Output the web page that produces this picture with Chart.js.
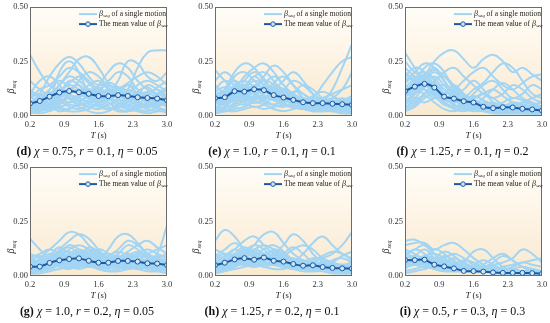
<!DOCTYPE html>
<html><head><meta charset="utf-8">
<script src="https://cdn.jsdelivr.net/npm/chart.js@4/dist/chart.umd.min.js"></script>
<style>
html,body{margin:0;padding:0;background:#fff;width:550px;height:323px;overflow:hidden;position:relative;}
.pnl{position:absolute;}
.cap{position:absolute;font-family:'Liberation Serif','Times New Roman',serif;font-size:12px;color:#111;white-space:nowrap;transform:translateX(-50%);}
</style></head><body>
<script>
// ---- data ----
const T = [0.2,0.4,0.6,0.8,1.0,1.2,1.4,1.6,1.8,2.0,2.2,2.4,2.6,2.8,3.0];
const xTickLabels = [0.2,0.9,1.6,2.3,3.0];
const yTickLabels = [0.00,0.25,0.50];

const meanD = [0.055,0.067,0.087,0.106,0.113,0.107,0.100,0.090,0.089,0.094,0.090,0.084,0.081,0.078,0.070];
const meanE = [0.080,0.084,0.112,0.110,0.121,0.117,0.094,0.083,0.072,0.061,0.057,0.057,0.054,0.052,0.049];
const meanF = [0.113,0.133,0.146,0.129,0.087,0.078,0.066,0.060,0.040,0.034,0.038,0.037,0.031,0.028,0.023];
const meanG = [0.041,0.041,0.058,0.070,0.076,0.079,0.068,0.059,0.059,0.067,0.067,0.064,0.056,0.055,0.048];
const meanH = [0.048,0.059,0.074,0.080,0.073,0.083,0.068,0.064,0.053,0.045,0.047,0.039,0.035,0.033,0.032];
const meanI = [0.071,0.071,0.073,0.050,0.042,0.033,0.021,0.020,0.018,0.014,0.012,0.012,0.012,0.011,0.008];

const singleD = [
[0.28,0.20,0.14,0.12,0.15,0.18,0.15,0.10,0.08,0.10,0.14,0.12,0.08,0.06,0.05],
[0.05,0.10,0.18,0.24,0.27,0.24,0.18,0.14,0.16,0.20,0.18,0.12,0.10,0.13,0.16],
[0.02,0.04,0.08,0.14,0.20,0.26,0.27,0.22,0.15,0.10,0.08,0.10,0.14,0.12,0.08],
[0.03,0.02,0.05,0.08,0.10,0.12,0.10,0.14,0.20,0.24,0.22,0.16,0.12,0.10,0.12],
[0.06,0.08,0.05,0.04,0.06,0.10,0.14,0.16,0.12,0.08,0.12,0.22,0.29,0.30,0.30],
[0.10,0.16,0.18,0.14,0.08,0.05,0.06,0.09,0.12,0.10,0.07,0.05,0.04,0.06,0.08],
[0.01,0.02,0.03,0.06,0.09,0.08,0.06,0.04,0.03,0.05,0.08,0.10,0.09,0.07,0.05],
[0.04,0.06,0.10,0.12,0.10,0.07,0.09,0.12,0.14,0.12,0.09,0.06,0.05,0.07,0.10],
[0.08,0.12,0.14,0.18,0.22,0.20,0.16,0.12,0.10,0.12,0.15,0.18,0.20,0.18,0.14],
[0.02,0.01,0.02,0.04,0.05,0.04,0.02,0.01,0.02,0.04,0.03,0.02,0.01,0.02,0.03],
[0.06,0.04,0.06,0.10,0.14,0.12,0.08,0.06,0.08,0.06,0.04,0.05,0.08,0.06,0.04],
[0.12,0.08,0.05,0.06,0.10,0.16,0.20,0.18,0.13,0.09,0.10,0.14,0.16,0.14,0.11],
[0.03,0.05,0.08,0.08,0.06,0.08,0.12,0.10,0.06,0.04,0.06,0.08,0.06,0.04,0.02],
[0.16,0.12,0.10,0.14,0.18,0.16,0.12,0.08,0.10,0.16,0.25,0.24,0.18,0.16,0.20],
[0.01,0.03,0.04,0.02,0.03,0.05,0.04,0.06,0.08,0.06,0.03,0.04,0.05,0.03,0.01],
[0.05,0.07,0.12,0.16,0.13,0.10,0.12,0.08,0.05,0.08,0.12,0.09,0.07,0.09,0.12],
[0.09,0.06,0.08,0.20,0.25,0.20,0.10,0.06,0.07,0.09,0.07,0.05,0.06,0.10,0.13],
[0.04,0.09,0.07,0.04,0.03,0.06,0.09,0.11,0.08,0.05,0.07,0.11,0.13,0.09,0.06],
[0.07,0.05,0.03,0.05,0.08,0.06,0.04,0.03,0.05,0.07,0.05,0.03,0.02,0.04,0.06],
[0.03,0.07,0.09,0.07,0.04,0.03,0.05,0.08,0.06,0.03,0.02,0.03,0.06,0.08,0.07],
[0.10,0.09,0.11,0.09,0.12,0.14,0.10,0.07,0.09,0.13,0.11,0.08,0.10,0.12,0.09],
[0.02,0.05,0.06,0.09,0.12,0.10,0.08,0.10,0.11,0.08,0.05,0.07,0.10,0.08,0.05],
[0.05,0.03,0.04,0.07,0.06,0.09,0.11,0.13,0.10,0.12,0.14,0.10,0.07,0.05,0.07],
[0.08,0.10,0.08,0.10,0.16,0.14,0.09,0.11,0.15,0.13,0.08,0.09,0.11,0.10,0.08],
[0.01,0.02,0.04,0.03,0.02,0.02,0.03,0.05,0.04,0.02,0.02,0.04,0.03,0.02,0.02],
[0.04,0.04,0.06,0.11,0.08,0.05,0.07,0.05,0.03,0.05,0.09,0.07,0.04,0.05,0.09]
];
const singleE = [
[0.21,0.16,0.12,0.14,0.18,0.20,0.16,0.10,0.07,0.05,0.04,0.06,0.12,0.22,0.33],
[0.06,0.12,0.20,0.24,0.22,0.16,0.12,0.10,0.08,0.06,0.08,0.14,0.20,0.25,0.27],
[0.10,0.08,0.12,0.18,0.22,0.24,0.20,0.14,0.10,0.08,0.06,0.05,0.08,0.12,0.20],
[0.03,0.06,0.10,0.08,0.12,0.18,0.23,0.20,0.14,0.08,0.05,0.04,0.05,0.06,0.05],
[0.08,0.12,0.16,0.12,0.10,0.12,0.14,0.12,0.08,0.06,0.04,0.03,0.04,0.03,0.02],
[0.04,0.02,0.05,0.10,0.14,0.12,0.08,0.06,0.10,0.14,0.12,0.08,0.06,0.05,0.06],
[0.12,0.16,0.14,0.10,0.08,0.10,0.15,0.18,0.14,0.10,0.07,0.06,0.05,0.04,0.03],
[0.02,0.03,0.06,0.12,0.18,0.14,0.10,0.06,0.04,0.03,0.05,0.07,0.06,0.04,0.03],
[0.07,0.09,0.14,0.16,0.13,0.09,0.07,0.08,0.11,0.10,0.07,0.05,0.04,0.05,0.07],
[0.01,0.02,0.03,0.04,0.06,0.05,0.03,0.02,0.03,0.04,0.03,0.02,0.02,0.01,0.01],
[0.05,0.10,0.18,0.20,0.16,0.12,0.10,0.12,0.16,0.14,0.10,0.07,0.05,0.06,0.08],
[0.14,0.10,0.06,0.05,0.07,0.10,0.12,0.09,0.05,0.03,0.04,0.06,0.08,0.07,0.05],
[0.09,0.06,0.09,0.13,0.10,0.06,0.05,0.07,0.06,0.05,0.06,0.08,0.10,0.12,0.14],
[0.03,0.08,0.13,0.09,0.06,0.08,0.12,0.16,0.20,0.16,0.10,0.07,0.06,0.07,0.09],
[0.11,0.13,0.10,0.07,0.09,0.14,0.18,0.14,0.09,0.06,0.05,0.04,0.03,0.02,0.02],
[0.06,0.05,0.08,0.06,0.04,0.05,0.09,0.11,0.08,0.07,0.09,0.11,0.09,0.06,0.04],
[0.16,0.20,0.16,0.10,0.12,0.16,0.14,0.08,0.05,0.04,0.02,0.02,0.03,0.04,0.03],
[0.04,0.04,0.10,0.16,0.20,0.17,0.10,0.05,0.04,0.06,0.08,0.06,0.04,0.03,0.04],
[0.07,0.05,0.04,0.07,0.09,0.07,0.05,0.04,0.06,0.05,0.03,0.03,0.05,0.04,0.03],
[0.03,0.06,0.08,0.10,0.08,0.10,0.13,0.10,0.07,0.05,0.06,0.05,0.03,0.02,0.03],
[0.10,0.11,0.09,0.12,0.16,0.14,0.11,0.09,0.06,0.08,0.06,0.04,0.06,0.08,0.06],
[0.02,0.04,0.07,0.06,0.09,0.12,0.09,0.06,0.08,0.06,0.04,0.05,0.04,0.03,0.02],
[0.05,0.08,0.12,0.14,0.11,0.08,0.10,0.12,0.09,0.07,0.05,0.03,0.02,0.04,0.05],
[0.08,0.06,0.10,0.09,0.07,0.09,0.07,0.05,0.04,0.03,0.04,0.05,0.07,0.05,0.03],
[0.01,0.02,0.02,0.03,0.04,0.03,0.04,0.05,0.04,0.03,0.02,0.03,0.02,0.02,0.01],
[0.06,0.09,0.11,0.08,0.06,0.07,0.10,0.08,0.05,0.04,0.03,0.02,0.03,0.03,0.04]
];
const singleF = [
[0.29,0.22,0.16,0.12,0.08,0.05,0.04,0.03,0.02,0.02,0.01,0.01,0.02,0.01,0.01],
[0.10,0.16,0.22,0.24,0.20,0.12,0.08,0.05,0.03,0.02,0.02,0.03,0.02,0.01,0.01],
[0.05,0.10,0.18,0.25,0.29,0.30,0.26,0.22,0.26,0.28,0.25,0.20,0.22,0.19,0.16],
[0.18,0.22,0.20,0.14,0.10,0.12,0.16,0.20,0.22,0.18,0.14,0.12,0.15,0.18,0.19],
[0.12,0.08,0.10,0.16,0.18,0.14,0.10,0.08,0.10,0.12,0.09,0.06,0.04,0.05,0.06],
[0.22,0.18,0.14,0.16,0.20,0.22,0.18,0.14,0.10,0.08,0.10,0.14,0.12,0.08,0.06],
[0.08,0.14,0.18,0.12,0.06,0.03,0.02,0.03,0.04,0.03,0.02,0.02,0.03,0.02,0.02],
[0.14,0.12,0.16,0.20,0.16,0.08,0.04,0.03,0.05,0.04,0.02,0.01,0.01,0.02,0.01],
[0.04,0.06,0.10,0.14,0.12,0.08,0.06,0.08,0.10,0.08,0.05,0.04,0.06,0.05,0.03],
[0.16,0.20,0.24,0.22,0.16,0.10,0.06,0.05,0.08,0.12,0.15,0.12,0.08,0.06,0.04],
[0.20,0.16,0.12,0.10,0.06,0.04,0.05,0.07,0.05,0.03,0.02,0.04,0.06,0.08,0.10],
[0.09,0.12,0.14,0.10,0.07,0.06,0.08,0.12,0.15,0.20,0.24,0.22,0.16,0.10,0.08],
[0.02,0.04,0.08,0.10,0.06,0.04,0.03,0.02,0.02,0.01,0.01,0.02,0.01,0.01,0.01],
[0.06,0.10,0.14,0.18,0.14,0.10,0.12,0.16,0.12,0.06,0.04,0.05,0.04,0.03,0.02],
[0.25,0.20,0.18,0.22,0.16,0.10,0.06,0.04,0.03,0.04,0.06,0.08,0.07,0.05,0.04],
[0.11,0.15,0.12,0.08,0.10,0.14,0.10,0.06,0.04,0.02,0.03,0.05,0.04,0.02,0.02],
[0.13,0.17,0.20,0.16,0.06,0.04,0.06,0.10,0.14,0.16,0.12,0.08,0.10,0.14,0.12],
[0.03,0.05,0.09,0.06,0.03,0.02,0.04,0.06,0.05,0.03,0.02,0.01,0.02,0.03,0.02],
[0.07,0.10,0.12,0.09,0.05,0.04,0.05,0.04,0.03,0.02,0.02,0.01,0.02,0.02,0.01],
[0.12,0.14,0.16,0.13,0.09,0.07,0.05,0.06,0.04,0.03,0.04,0.03,0.02,0.02,0.02],
[0.15,0.18,0.15,0.11,0.08,0.09,0.07,0.04,0.03,0.03,0.02,0.02,0.03,0.04,0.03],
[0.05,0.08,0.13,0.15,0.10,0.06,0.08,0.05,0.03,0.04,0.05,0.04,0.02,0.01,0.01],
[0.10,0.13,0.10,0.12,0.14,0.11,0.07,0.09,0.07,0.05,0.03,0.02,0.04,0.03,0.02],
[0.19,0.16,0.19,0.17,0.12,0.08,0.05,0.03,0.02,0.03,0.04,0.06,0.05,0.03,0.02],
[0.03,0.07,0.06,0.08,0.08,0.05,0.03,0.04,0.06,0.05,0.03,0.03,0.05,0.04,0.03],
[0.09,0.11,0.17,0.21,0.18,0.13,0.09,0.06,0.05,0.06,0.04,0.02,0.01,0.01,0.02]
];
const singleG = [
[0.17,0.12,0.08,0.06,0.05,0.04,0.05,0.06,0.05,0.04,0.03,0.04,0.06,0.08,0.10],
[0.04,0.08,0.12,0.16,0.20,0.19,0.14,0.10,0.08,0.10,0.14,0.12,0.08,0.06,0.05],
[0.02,0.04,0.07,0.12,0.16,0.19,0.17,0.12,0.08,0.06,0.05,0.07,0.10,0.12,0.14],
[0.06,0.05,0.06,0.08,0.10,0.12,0.10,0.08,0.12,0.18,0.19,0.15,0.10,0.08,0.06],
[0.03,0.02,0.03,0.05,0.06,0.05,0.04,0.06,0.08,0.07,0.05,0.04,0.06,0.10,0.23],
[0.08,0.06,0.05,0.08,0.12,0.14,0.12,0.08,0.06,0.08,0.11,0.14,0.16,0.13,0.10],
[0.01,0.02,0.04,0.05,0.04,0.03,0.04,0.03,0.02,0.03,0.04,0.03,0.02,0.02,0.03],
[0.05,0.07,0.10,0.09,0.06,0.05,0.07,0.09,0.10,0.08,0.06,0.05,0.04,0.05,0.04],
[0.10,0.08,0.06,0.10,0.14,0.12,0.08,0.05,0.04,0.06,0.09,0.11,0.09,0.06,0.05],
[0.02,0.03,0.05,0.04,0.03,0.05,0.08,0.12,0.10,0.06,0.04,0.03,0.04,0.03,0.02],
[0.03,0.05,0.04,0.06,0.09,0.10,0.08,0.06,0.05,0.07,0.08,0.07,0.05,0.04,0.04],
[0.07,0.04,0.03,0.05,0.08,0.09,0.11,0.09,0.06,0.05,0.07,0.09,0.08,0.06,0.05],
[0.04,0.06,0.09,0.13,0.10,0.06,0.05,0.07,0.09,0.12,0.16,0.14,0.10,0.08,0.07],
[0.01,0.01,0.02,0.03,0.04,0.06,0.05,0.03,0.02,0.02,0.03,0.04,0.03,0.02,0.01],
[0.06,0.09,0.07,0.05,0.06,0.08,0.06,0.04,0.05,0.04,0.03,0.05,0.07,0.09,0.08],
[0.02,0.04,0.06,0.10,0.08,0.06,0.09,0.07,0.04,0.06,0.05,0.03,0.04,0.05,0.04],
[0.04,0.03,0.05,0.07,0.06,0.08,0.10,0.08,0.06,0.08,0.10,0.08,0.06,0.07,0.06],
[0.06,0.07,0.08,0.10,0.11,0.09,0.07,0.06,0.07,0.09,0.08,0.10,0.09,0.07,0.06],
[0.03,0.04,0.06,0.08,0.07,0.10,0.12,0.10,0.08,0.07,0.09,0.08,0.07,0.05,0.04],
[0.05,0.06,0.04,0.06,0.08,0.11,0.09,0.07,0.09,0.11,0.09,0.06,0.05,0.06,0.07],
[0.02,0.03,0.04,0.06,0.09,0.07,0.05,0.05,0.04,0.05,0.06,0.05,0.04,0.03,0.03],
[0.08,0.10,0.12,0.10,0.08,0.09,0.13,0.11,0.07,0.06,0.08,0.10,0.12,0.10,0.08],
[0.03,0.05,0.07,0.05,0.04,0.04,0.06,0.04,0.03,0.04,0.05,0.06,0.05,0.04,0.03],
[0.04,0.04,0.08,0.11,0.13,0.10,0.07,0.06,0.08,0.07,0.05,0.06,0.07,0.06,0.05]
];
const singleH = [
[0.16,0.21,0.18,0.12,0.08,0.06,0.05,0.04,0.05,0.04,0.03,0.03,0.04,0.03,0.02],
[0.04,0.08,0.12,0.16,0.18,0.14,0.10,0.08,0.06,0.05,0.06,0.08,0.10,0.14,0.20],
[0.06,0.04,0.06,0.10,0.14,0.19,0.20,0.15,0.10,0.07,0.05,0.04,0.05,0.04,0.03],
[0.02,0.03,0.05,0.08,0.10,0.08,0.10,0.14,0.19,0.16,0.10,0.06,0.04,0.03,0.02],
[0.08,0.10,0.09,0.07,0.06,0.08,0.12,0.10,0.07,0.10,0.15,0.18,0.14,0.10,0.08],
[0.03,0.06,0.10,0.13,0.10,0.06,0.05,0.07,0.08,0.06,0.04,0.03,0.02,0.03,0.04],
[0.10,0.07,0.05,0.06,0.09,0.12,0.14,0.11,0.07,0.05,0.04,0.05,0.07,0.08,0.06],
[0.01,0.02,0.03,0.04,0.05,0.04,0.03,0.03,0.04,0.03,0.02,0.02,0.01,0.01,0.01],
[0.05,0.04,0.07,0.11,0.14,0.12,0.08,0.05,0.04,0.06,0.08,0.07,0.05,0.04,0.03],
[0.12,0.10,0.08,0.05,0.04,0.05,0.07,0.09,0.12,0.14,0.12,0.08,0.06,0.05,0.06],
[0.03,0.04,0.05,0.07,0.08,0.10,0.09,0.06,0.04,0.03,0.03,0.04,0.06,0.09,0.11],
[0.07,0.09,0.12,0.10,0.06,0.04,0.06,0.10,0.13,0.10,0.06,0.04,0.03,0.02,0.02],
[0.02,0.05,0.08,0.06,0.04,0.06,0.09,0.07,0.05,0.04,0.05,0.06,0.05,0.04,0.03],
[0.04,0.03,0.04,0.06,0.07,0.06,0.05,0.04,0.03,0.05,0.07,0.09,0.11,0.10,0.07],
[0.09,0.12,0.15,0.12,0.09,0.07,0.08,0.06,0.04,0.03,0.02,0.03,0.02,0.02,0.01],
[0.01,0.03,0.06,0.09,0.12,0.10,0.06,0.04,0.03,0.02,0.02,0.03,0.02,0.01,0.01],
[0.04,0.05,0.07,0.06,0.05,0.07,0.08,0.06,0.05,0.04,0.05,0.04,0.03,0.03,0.04],
[0.06,0.07,0.09,0.10,0.09,0.10,0.11,0.08,0.06,0.05,0.04,0.05,0.04,0.03,0.03],
[0.03,0.05,0.07,0.09,0.11,0.09,0.08,0.09,0.07,0.05,0.06,0.05,0.04,0.05,0.04],
[0.05,0.06,0.05,0.07,0.08,0.07,0.09,0.07,0.05,0.06,0.05,0.03,0.04,0.04,0.03],
[0.02,0.04,0.06,0.08,0.06,0.05,0.07,0.05,0.04,0.03,0.04,0.03,0.03,0.02,0.02],
[0.07,0.08,0.10,0.11,0.12,0.14,0.12,0.09,0.07,0.06,0.05,0.06,0.05,0.04,0.05],
[0.04,0.04,0.05,0.05,0.06,0.08,0.06,0.05,0.06,0.04,0.03,0.04,0.05,0.04,0.03],
[0.05,0.07,0.08,0.12,0.09,0.07,0.10,0.08,0.06,0.07,0.05,0.04,0.03,0.04,0.05]
];
const singleI = [
[0.16,0.165,0.14,0.10,0.06,0.04,0.03,0.02,0.02,0.01,0.01,0.01,0.01,0.01,0.00],
[0.14,0.15,0.15,0.12,0.14,0.15,0.12,0.08,0.05,0.03,0.02,0.02,0.01,0.01,0.01],
[0.10,0.12,0.14,0.10,0.06,0.04,0.06,0.11,0.12,0.08,0.04,0.02,0.02,0.01,0.01],
[0.06,0.09,0.12,0.08,0.05,0.03,0.02,0.03,0.05,0.08,0.10,0.07,0.04,0.02,0.02],
[0.08,0.06,0.08,0.12,0.10,0.06,0.04,0.03,0.04,0.05,0.06,0.08,0.12,0.10,0.06],
[0.04,0.05,0.06,0.05,0.04,0.05,0.07,0.06,0.04,0.03,0.04,0.05,0.06,0.07,0.08],
[0.12,0.10,0.07,0.05,0.06,0.08,0.06,0.04,0.03,0.02,0.02,0.03,0.02,0.02,0.01],
[0.02,0.03,0.04,0.03,0.02,0.03,0.04,0.03,0.02,0.02,0.01,0.01,0.02,0.01,0.01],
[0.09,0.12,0.10,0.07,0.08,0.10,0.08,0.05,0.04,0.06,0.09,0.07,0.04,0.03,0.02],
[0.05,0.07,0.09,0.10,0.08,0.05,0.03,0.02,0.03,0.04,0.03,0.02,0.01,0.01,0.01],
[0.07,0.05,0.04,0.06,0.09,0.07,0.04,0.05,0.07,0.05,0.03,0.04,0.06,0.05,0.04],
[0.03,0.06,0.05,0.03,0.02,0.02,0.03,0.04,0.03,0.02,0.02,0.02,0.01,0.01,0.01],
[0.11,0.08,0.06,0.08,0.11,0.09,0.05,0.03,0.02,0.02,0.03,0.02,0.02,0.02,0.01],
[0.01,0.02,0.03,0.04,0.03,0.02,0.02,0.03,0.04,0.03,0.02,0.03,0.04,0.03,0.02],
[0.06,0.06,0.07,0.06,0.05,0.04,0.03,0.02,0.02,0.02,0.01,0.01,0.01,0.01,0.01],
[0.08,0.09,0.08,0.06,0.04,0.04,0.03,0.02,0.02,0.02,0.02,0.01,0.01,0.01,0.01],
[0.05,0.06,0.08,0.07,0.06,0.04,0.03,0.03,0.02,0.02,0.02,0.02,0.02,0.01,0.01],
[0.09,0.08,0.06,0.05,0.05,0.04,0.02,0.02,0.02,0.03,0.02,0.01,0.01,0.01,0.01],
[0.04,0.05,0.05,0.04,0.03,0.04,0.05,0.03,0.02,0.02,0.02,0.02,0.02,0.02,0.01],
[0.07,0.07,0.09,0.08,0.07,0.05,0.03,0.02,0.03,0.02,0.01,0.02,0.01,0.01,0.01]
];

const captions = [
  ['(d)','0.75','0.1','0.05'],
  ['(e)','1.0','0.1','0.1'],
  ['(f)','1.25','0.1','0.2'],
  ['(g)','1.0','0.2','0.05'],
  ['(h)','1.25','0.2','0.1'],
  ['(i)','0.5','0.3','0.3']
];

// ---- layout ----
const panels = [
  {single:singleD, mean:meanD, plotLeft:29.5,  plotTop:7},
  {single:singleE, mean:meanE, plotLeft:214.5, plotTop:7},
  {single:singleF, mean:meanF, plotLeft:405,   plotTop:7},
  {single:singleG, mean:meanG, plotLeft:29.5,  plotTop:167},
  {single:singleH, mean:meanH, plotLeft:214.5, plotTop:167},
  {single:singleI, mean:meanI, plotLeft:405,   plotTop:167}
];
const PW = 137, PH = 108.5;
const YAX = 30, PADT = 7, CW = 180, CH = 145;
const SERIF = "'Liberation Serif','Times New Roman',serif";
const LIGHT = '#a2d5f4';
const DARK = '#1b5aa3';

function drawSub(ctx, x, y, parts, align) {
  const sizes = parts.map(p => { ctx.font = p.f; return ctx.measureText(p.t).width; });
  const total = sizes.reduce((a,b)=>a+b,0);
  let cx = align === 'center' ? x - total/2 : x;
  parts.forEach((p,i) => {
    ctx.font = p.f;
    ctx.fillText(p.t, cx, y + (p.dy||0));
    cx += sizes[i];
  });
}

const decor = {
  id:'decor',
  beforeDatasetsDraw(chart) {
    const {ctx, chartArea:a} = chart;
    const g = ctx.createLinearGradient(0, a.top, 0, a.bottom);
    g.addColorStop(0, '#fffdf8');
    g.addColorStop(0.5, '#fdf3e3');
    g.addColorStop(1, '#f8e9d0');
    ctx.save();
    ctx.fillStyle = g;
    ctx.fillRect(a.left, a.top, a.right-a.left, a.bottom-a.top);
    ctx.restore();
  },
  afterDraw(chart) {
    const {ctx, chartArea:a} = chart;
    ctx.save();
    ctx.strokeStyle = '#6b6b6b'; ctx.lineWidth = 1;
    ctx.strokeRect(Math.round(a.left)+0.5, Math.round(a.top)+0.5, Math.round(a.right-a.left)-1, Math.round(a.bottom-a.top));
    ctx.fillStyle = '#222';
    ctx.textBaseline = 'middle';
    ctx.save();
    ctx.translate(a.left - 19, a.top + 80);
    ctx.rotate(-Math.PI/2);
    drawSub(ctx, 0, 0, [
      {t:'β', f:`italic 10px ${SERIF}`},
      {t:'seq', f:`italic 6px ${SERIF}`, dy:3}
    ], 'center');
    ctx.restore();
    drawSub(ctx, (a.left+a.right)/2, a.bottom + 20, [
      {t:'T', f:`italic 9px ${SERIF}`},
      {t:' (s)', f:`8.5px ${SERIF}`}
    ], 'center');
    const lx0 = a.right - 88, lx1 = a.right - 70, tx = a.right - 68;
    const y1 = a.top + 7, y2 = a.top + 17;
    ctx.strokeStyle = LIGHT; ctx.lineWidth = 2;
    ctx.beginPath(); ctx.moveTo(lx0, y1); ctx.lineTo(lx1, y1); ctx.stroke();
    ctx.strokeStyle = DARK; ctx.lineWidth = 2;
    ctx.beginPath(); ctx.moveTo(lx0, y2); ctx.lineTo(lx1, y2); ctx.stroke();
    ctx.fillStyle = '#cfe6f7'; ctx.lineWidth = 1;
    ctx.beginPath(); ctx.arc((lx0+lx1)/2, y2, 2.3, 0, Math.PI*2); ctx.fill(); ctx.stroke();
    ctx.fillStyle = '#222';
    drawSub(ctx, tx, y1, [
      {t:'β', f:`italic 8px ${SERIF}`},
      {t:'seq', f:`italic 5px ${SERIF}`, dy:2},
      {t:' of a single motion', f:`7.5px ${SERIF}`}
    ]);
    drawSub(ctx, tx, y2, [
      {t:'The mean value of ', f:`7.5px ${SERIF}`},
      {t:'β', f:`italic 8px ${SERIF}`},
      {t:'seq', f:`italic 5px ${SERIF}`, dy:2}
    ]);
    ctx.restore();
  }
};

panels.forEach((p, k) => {
  const div = document.createElement('div');
  div.className = 'pnl';
  const left = p.plotLeft - YAX, top = p.plotTop - PADT;
  div.style.left = left + 'px'; div.style.top = top + 'px';
  div.style.width = CW + 'px'; div.style.height = CH + 'px';
  const cv = document.createElement('canvas');
  cv.width = CW; cv.height = CH;
  div.appendChild(cv);
  document.body.appendChild(div);

  const datasets = p.single.map(arr => ({
    data: arr.map((v,i) => ({x:T[i], y:v})),
    borderColor: LIGHT, borderWidth: 2, pointRadius: 0, tension: 0.45, fill:false, order: 1
  }));
  datasets.push({
    data: p.mean.map((v,i) => ({x:T[i], y:v})),
    borderColor: DARK, borderWidth: 2, tension: 0.25, order: 0,
    pointRadius: 2.5, pointBackgroundColor: '#cfe6f7', pointBorderColor: DARK, pointBorderWidth: 1
  });

  new Chart(cv, {
    type: 'line',
    data: {datasets},
    plugins: [decor],
    options: {
      responsive: false, animation: false,
      layout: {padding: {top: PADT, right: CW - YAX - PW, left: 0, bottom: 0}},
      plugins: {legend:{display:false}, tooltip:{enabled:false}},
      scales: {
        x: {
          type:'linear', min: 0.2, max: 3.0,
          afterBuildTicks: s => { s.ticks = xTickLabels.map(v => ({value:v})); },
          afterFit: s => { s.height = CH - PADT - PH; },
          grid: {display:false, drawTicks:false},
          border: {display:false},
          ticks: {padding: 4, font:{family:SERIF, size:8.5}, color:'#333', maxRotation:0,
                  callback: v => Number(v).toFixed(1)}
        },
        y: {
          min: 0, max: 0.5,
          afterBuildTicks: s => { s.ticks = yTickLabels.map(v => ({value:v})); },
          afterFit: s => { s.width = YAX; },
          grid: {display:false, drawTicks:false},
          border: {display:false},
          ticks: {padding: 2, font:{family:SERIF, size:8.5}, color:'#333',
                  callback: v => Number(v).toFixed(2)}
        }
      }
    }
  });

  const c = captions[k];
  const cap = document.createElement('div');
  cap.className = 'cap';
  cap.style.left = (p.plotLeft + PW/2 - 11) + 'px';
  cap.style.top = (p.plotTop + 137) + 'px';
  cap.innerHTML = `<b>${c[0]}</b> <i>χ</i> = ${c[1]}, <i>r</i> = ${c[2]}, <i>η</i> = ${c[3]}`;
  document.body.appendChild(cap);
});
</script>
</body></html>
